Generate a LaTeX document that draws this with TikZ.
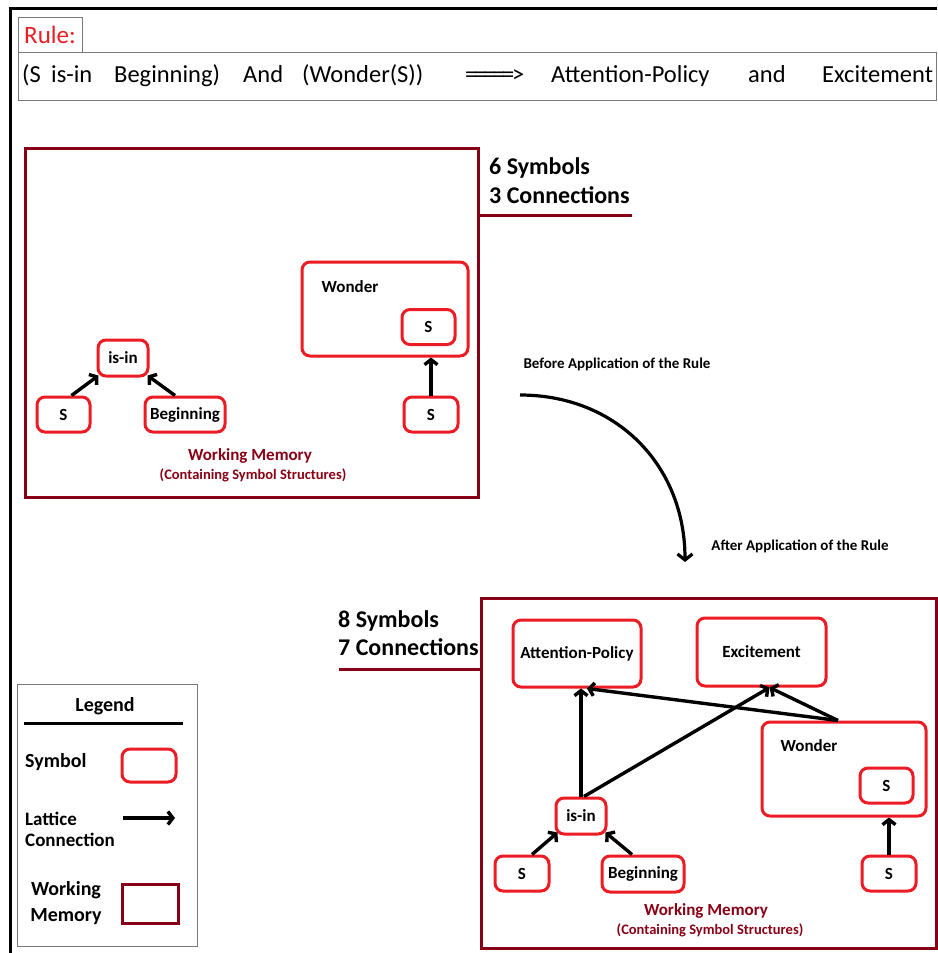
\documentclass[tikz,border=0pt]{standalone}
\usepackage{fontspec}
\setmainfont{Carlito}
\usetikzlibrary{arrows.meta,calc}
\definecolor{symred}{RGB}{237,28,36}
\definecolor{wmred}{RGB}{136,0,21}
\definecolor{boxgray}{RGB}{120,120,120}
\begin{document}
\begin{tikzpicture}[x=1pt,y=-1pt,
  sym/.style={draw=symred, line width=3pt, rounded corners=8pt, inner sep=0pt,
    font=\fontsize{17}{19}\selectfont\bfseries},
  symlbl/.style={font=\fontsize{17}{19}\selectfont\bfseries, inner sep=0pt},
  wm/.style={draw=wmred, line width=3pt},
  lat/.style={line width=3.4pt, -{Straight Barb[length=5pt,width=13pt]}},
  count/.style={font=\fontsize{24}{27}\selectfont\bfseries, anchor=base west, inner sep=0pt},
  wmtitle/.style={text=wmred, font=\fontsize{17}{19}\selectfont\bfseries, inner sep=0pt},
  wmsub/.style={text=wmred, font=\fontsize{14.5}{16}\selectfont\bfseries, inner sep=0pt},
  ruletxt/.style={font=\fontsize{24.5}{27}\selectfont, anchor=base west, inner sep=0pt},
  apptxt/.style={font=\fontsize{15}{17}\selectfont\bfseries, inner sep=0pt},
  legtxt/.style={font=\fontsize{20}{24}\selectfont\bfseries, inner sep=0pt}
]
\useasboundingbox (0,0) rectangle (937,953);
\fill[white] (0,0) rectangle (937,953);

% outer frame
\draw[line width=3pt] (10,953) -- (10,8) -- (937,8);

% rule header
\node[draw=boxgray, line width=0.8pt, minimum width=64pt, minimum height=35pt, inner sep=0pt,
  text=symred, font=\fontsize{25}{27}\selectfont] (rulelbl) at (50,34.5) {Rule:};
\draw[boxgray, line width=0.8pt] (18,52) rectangle (936,100);
\node[ruletxt] (r1a) at (22,82) {(S};
\node[ruletxt] (r1b) at (51,82) {is-in};
\node[ruletxt] (r1c) at (114,82) {Beginning)};
\node[ruletxt] (r2) at (243,82) {And};
\node[ruletxt] (r3) at (302,82) {(Wonder(S))};
\node[ruletxt] (r4) at (465,82) {=\kern-3pt=\kern-3pt=\kern-3pt=\kern-3pt=\kern-2pt>};
\node[ruletxt] (r5) at (551,82) {Attention-Policy};
\node[ruletxt] (r6) at (748,82) {and};
\node[ruletxt] (r7) at (822,82) {Excitement};

% ---------- top working memory ----------
\draw[wm] (25,148) rectangle (478,497);
\draw[wm] (478,215) -- (632,215);
\node[count] (c1) at (489,174) {6 Symbols};
\node[count] (c2) at (489,203) {3 Connections};

\node[sym, minimum width=166pt, minimum height=94pt] (w1) at (385,309) {};
\node[symlbl] (w1l) at (350,287) {Wonder};
\node[sym, minimum width=53pt, minimum height=35pt] (ws1) at (428.5,327) {S};
\node[sym, minimum width=54pt, minimum height=35pt] (s4) at (431,414.5) {S};
\node[sym, minimum width=50pt, minimum height=36pt] (isin1) at (123,358) {is-in};
\node[sym, minimum width=53pt, minimum height=35pt] (s1) at (63.5,414.5) {S};
\node[sym, minimum width=80pt, minimum height=35pt] (beg1) at (185,414.5) {Beginning};

\draw[lat] ($(s1.north)+(8,0)$) -- ($(isin1.south west)+(2,-2)$);
\draw[lat] ($(beg1.north)+(-10,0)$) -- ($(isin1.south east)+(-2,-2)$);
\draw[lat] (s4.north) -- (s4.north |- w1.south);

\node[wmtitle] (wm1t) at (250,456) {Working Memory};
\node[wmsub] (wm1s) at (253,475) {(Containing Symbol Structures)};

% ---------- transition arrow ----------
\node[apptxt] (before) at (617,364) {Before Application of the Rule};
\node[apptxt] (after) at (800,546) {After Application of the Rule};
\coordinate (cs) at (520,395);
\coordinate (ce) at (685,562);
\draw[line width=3.2pt, -{Straight Barb[length=6pt,width=15pt]}] (cs) to[out=0, in=90, looseness=1.05] (ce);

% ---------- bottom working memory ----------
\draw[wm] (481,598) rectangle (936,948);
\draw[wm] (339,669) -- (481,669);
\node[count] (c3) at (338,627) {8 Symbols};
\node[count] (c4) at (338,655) {7 Connections};

\node[sym, minimum width=128pt, minimum height=67pt] (ap) at (577,653.5) {Attention-Policy};
\node[sym, minimum width=129pt, minimum height=68pt] (exc) at (761.5,652) {Excitement};
\node[sym, minimum width=164pt, minimum height=94pt] (w2) at (844,769) {};
\node[symlbl] (w2l) at (809,746) {Wonder};
\node[sym, minimum width=53pt, minimum height=35pt] (ws2) at (886.5,785.5) {S};
\node[sym, minimum width=54pt, minimum height=35pt] (s6) at (889,873.5) {S};
\node[sym, minimum width=50pt, minimum height=36pt] (isin2) at (581,816) {is-in};
\node[sym, minimum width=54pt, minimum height=35pt] (s5) at (522,873.5) {S};
\node[sym, minimum width=82pt, minimum height=36pt] (beg2) at (643,874) {Beginning};

\draw[lat] (isin2.north) -- (isin2.north |- ap.south);
\draw[lat] ($(isin2.north)+(3,0)$) -- ($(exc.south)+(8,0)$);
\draw[lat] ($(w2.north)+(-6,0)$) -- ($(ap.south)+(10,0)$);
\draw[lat] ($(w2.north)+(-6,0)$) -- ($(exc.south)+(8,0)$);
\draw[lat] ($(s5.north)+(10,0)$) -- ($(isin2.south west)+(3,-3)$);
\draw[lat] ($(beg2.north)+(-11,0)$) -- ($(isin2.south east)+(-2,-3)$);
\draw[lat] (s6.north) -- (s6.north |- w2.south);

\node[wmtitle] (wm2t) at (706,911) {Working Memory};
\node[wmsub] (wm2s) at (710,930) {(Containing Symbol Structures)};

% ---------- legend ----------
\draw[boxgray, line width=0.8pt] (17,684) rectangle (197,946);
\node[legtxt] (legt) at (105,706) {Legend};
\draw[line width=3pt] (24,723) -- (183,723);
\node[legtxt, anchor=west] (legsym) at (25,762) {Symbol};
\node[sym, minimum width=54pt, minimum height=33pt] (legbox) at (149,765.5) {};
\node[legtxt, anchor=west, align=left, font=\fontsize{19}{21}\selectfont\bfseries] (leglat) at (25,829) {Lattice\\Connection};
\coordinate (la) at (123,818);
\coordinate (lb) at (175,818);
\draw[lat] (la) -- (lb);
\node[legtxt, align=center, font=\fontsize{20}{26}\selectfont\bfseries] (legwm) at (66,903) {Working\\Memory};
\draw[wm] (122,884) rectangle (178,923);
\end{tikzpicture}
\end{document}
